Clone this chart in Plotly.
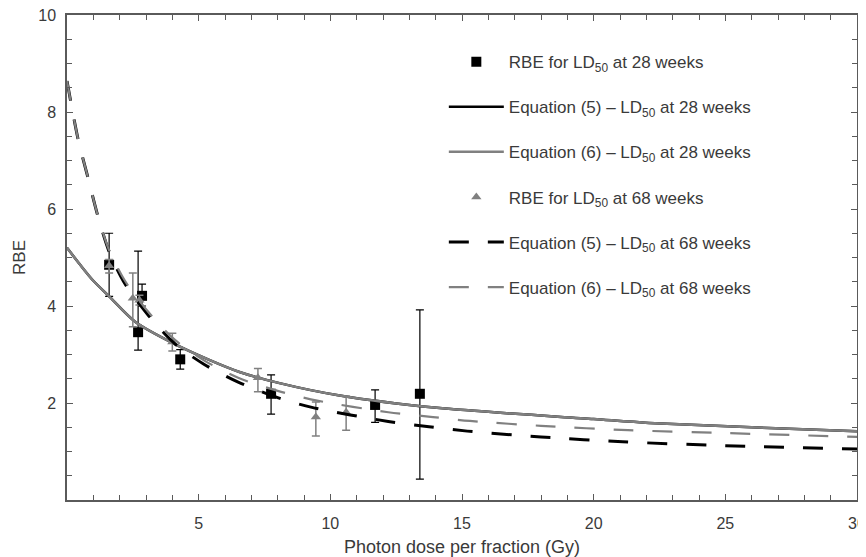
import plotly.graph_objects as go

# 28 weeks data (squares)
sq_x = [1.6, 2.7, 2.85, 4.3, 7.75, 11.7, 13.4]
sq_y = [4.85, 3.46, 4.21, 2.90, 2.19, 1.96, 2.19]
sq_ep = [0.65, 1.67, 0.24, 0.20, 0.39, 0.31, 1.73]
sq_em = [0.65, 0.37, 0.21, 0.20, 0.42, 0.36, 1.76]

# 68 weeks data (triangles)
tr_x = [1.6, 2.5, 2.75, 4.0, 7.25, 9.45, 10.6]
tr_y = [4.83, 4.16, 4.12, 3.26, 2.52, 1.71, 1.81]
tr_ep = [0.13, 0.52, 0.10, 0.18, 0.19, 0.31, 0.33]
tr_em = [0.15, 0.59, 0.10, 0.19, 0.29, 0.39, 0.37]

# Equation curves, 28 weeks (eq 5 and eq 6 coincide)
c28_x = [0, 0.5, 1.0, 1.6, 2.6, 4.0, 5.4, 6.55, 8.07, 10.3, 14.05, 20, 22.1, 26, 30]
c28_y = [5.2, 4.85, 4.52, 4.2, 3.67, 3.24, 2.89, 2.64, 2.41, 2.16, 1.90, 1.67, 1.59, 1.50, 1.42]

# Equation (6), 68 weeks
e6_68_x = [0, 0.42, 0.8, 1.17, 1.6, 2.2, 3.1, 4.1, 5.2, 6.5, 8.0, 9.5, 12.2, 13.9, 15.3, 18, 21.3, 25, 30]
e6_68_y = [8.64, 7.44, 6.64, 5.86, 5.15, 4.52, 3.87, 3.30, 2.88, 2.52, 2.25, 2.05, 1.81, 1.71, 1.63, 1.53, 1.44, 1.38, 1.30]

# Equation (5), 68 weeks
e5_68_x = [0, 0.42, 0.8, 1.17, 1.6, 2.2, 3.1, 4.1, 5.2, 6.5, 8.0, 9.3, 12.2, 13.75, 15.2, 18, 21.1, 25, 30]
e5_68_y = [8.64, 7.44, 6.64, 5.86, 5.12, 4.46, 3.80, 3.22, 2.80, 2.43, 2.11, 1.91, 1.62, 1.51, 1.42, 1.30, 1.20, 1.12, 1.05]

x_ticks = [5, 10, 15, 20, 25, 30]
y_ticks = [2, 4, 6, 8, 10]

GRAY = "#808080"
TXT = "#3a3a3a"
AX = "#5a5a5a"
FONT = "Liberation Sans, Arial, sans-serif"

fig = go.Figure()

fig.add_trace(go.Scatter(
    x=sq_x, y=sq_y, mode="markers", name="RBE for LD<sub>50</sub> at 28 weeks",
    marker=dict(symbol="square", size=10, color="black"),
    error_y=dict(type="data", array=sq_ep, arrayminus=sq_em, color="black", thickness=1.2, width=4),
    legendgroup="a", legendrank=1))
fig.add_trace(go.Scatter(
    x=c28_x, y=c28_y, mode="lines", name="Equation (5) \u2013 LD<sub>50</sub> at 28 weeks",
    line=dict(color="black", width=2.5, shape="spline", smoothing=0.8),
    legendgroup="b", legendrank=2))
fig.add_trace(go.Scatter(
    x=c28_x, y=c28_y, mode="lines", name="Equation (6) \u2013 LD<sub>50</sub> at 28 weeks",
    line=dict(color=GRAY, width=2.5, shape="spline", smoothing=0.8),
    legendgroup="c", legendrank=3))
fig.add_trace(go.Scatter(
    x=tr_x, y=tr_y, mode="markers", name="RBE for LD<sub>50</sub> at 68 weeks",
    marker=dict(symbol="triangle-up", size=9, color=GRAY),
    error_y=dict(type="data", array=tr_ep, arrayminus=tr_em, color=GRAY, thickness=1.5, width=4),
    legendgroup="d", legendrank=4))
fig.add_trace(go.Scatter(
    x=e5_68_x, y=e5_68_y, mode="lines", name="Equation (5) \u2013 LD<sub>50</sub> at 68 weeks",
    line=dict(color="black", width=3, dash="20px,19px", shape="spline", smoothing=0.8),
    legendgroup="e", legendrank=5))
fig.add_trace(go.Scatter(
    x=e6_68_x, y=e6_68_y, mode="lines", name="Equation (6) \u2013 LD<sub>50</sub> at 68 weeks",
    line=dict(color=GRAY, width=2.2, dash="20px,19px", shape="spline", smoothing=0.8),
    legendgroup="f", legendrank=6))

axis_common = dict(
    showgrid=False, zeroline=False, showline=True, linecolor=AX, linewidth=1.5,
    mirror="allticks", ticks="inside", ticklen=6, tickcolor=AX, tickwidth=1,
    tickfont=dict(family=FONT, size=16, color=TXT), automargin=False,
    ticklabeloverflow="allow",
)

fig.update_xaxes(range=[0, 30], tickvals=x_ticks,
                 minor=dict(dtick=1, ticks="inside", ticklen=5, tickcolor=AX),
                 title=dict(text="Photon dose per fraction (Gy)", font=dict(family=FONT, size=18, color=TXT),
                            standoff=18),
                 ticklabelstandoff=8,
                 **axis_common)
fig.update_yaxes(range=[0, 10], tickvals=y_ticks,
                 minor=dict(dtick=0.5, ticks="inside", ticklen=5, tickcolor=AX),
                 title=dict(text="RBE", font=dict(family=FONT, size=17, color=TXT), standoff=8),
                 ticklabelstandoff=6,
                 **axis_common)

# The page body adds an 8px margin, so the figure is 8px smaller on each axis
fig.update_layout(
    width=858, height=549,
    margin=dict(l=59, r=9, t=7, b=57),
    plot_bgcolor="white", paper_bgcolor="white",
    font=dict(family=FONT, size=16, color=TXT),
    legend=dict(x=0.477, y=0.94, xanchor="left", yanchor="top",
                bgcolor="rgba(0,0,0,0)", tracegroupgap=20, itemwidth=55,
                font=dict(family=FONT, size=17, color=TXT)),
    showlegend=True,
)

fig.write_html("out.html")
